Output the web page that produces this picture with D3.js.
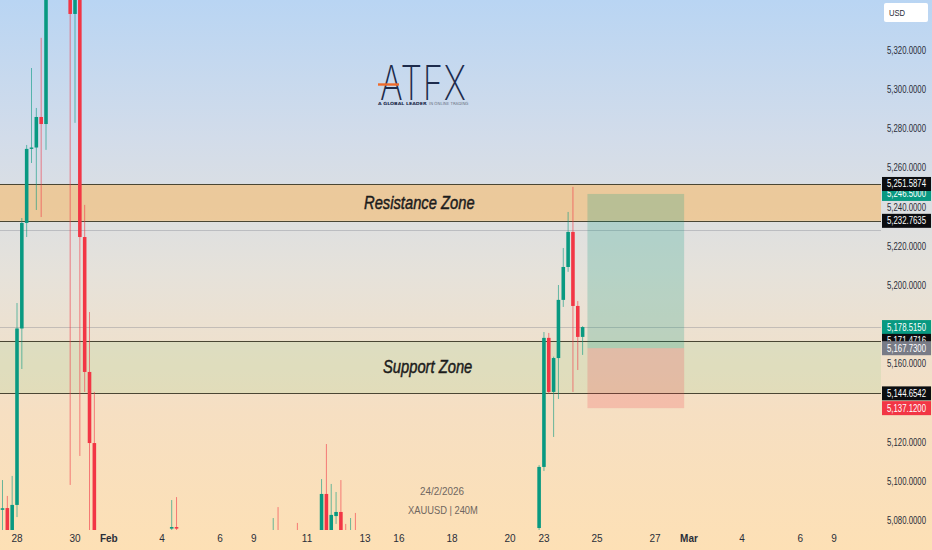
<!DOCTYPE html>
<html>
<head>
<meta charset="utf-8">
<script src="https://cdn.jsdelivr.net/npm/d3@7"></script>
<style>
  html, body { margin: 0; padding: 0; background: #fff; }
  svg { display: block; }
  .narrow { font-family: "Liberation Sans Narrow", "Liberation Sans", Arial, sans-serif; }
</style>
</head>
<body>
<svg id="chart" width="932" height="550"></svg>
<script>
// XAUUSD 4H candles (slot = bar position on the time axis)
const slots  = [-3, -2, -1, 0, 1, 2, 3, 4, 5, 6, 11, 12, 13, 14, 15, 16, 32, 33, 53, 54, 58, 63, 64, 65, 66, 67, 68, 69, 70,
                108, 109, 110, 111, 112, 113, 114, 115, 116, 117];
const opens  = [5085.2, 5086.1, 5068.0, 5087.7, 5177.8, 5231.7, 5269.5, 5270.2, 5285.8, 5282.2, 5420.0, 5338.4, 5420.0, 5224.5, 5155.6, 5119.3,
                5075.6, 5076.4, 5068.0, 5074.0, 5072.0, 5066.0, 5093.3, 5068.0, 5082.0, 5084.1, 5074.0, 5068.0, 5074.0,
                5075.9, 5107.1, 5173.0, 5145.4, 5162.7, 5192.4, 5209.2, 5227.1, 5189.3, 5173.5];
const highs  = [5100.4, 5092.3, 5102.5, 5190.8, 5234.2, 5271.5, 5310.8, 5290.4, 5326.2, 5420.0, 5450.0, 5450.0, 5450.0, 5240.9, 5186.2, 5145.4,
                5090.2, 5091.7, 5081.0, 5086.6, 5078.5, 5100.9, 5118.8, 5098.4, 5094.3, 5100.4, 5078.0, 5081.0, 5083.6,
                5108.0, 5176.0, 5175.5, 5163.4, 5200.0, 5218.9, 5237.3, 5250.1, 5191.8, 5179.0];
const lows   = [5066.0, 5062.0, 5064.0, 5081.5, 5157.1, 5224.5, 5262.3, 5238.3, 5234.7, 5269.0, 5097.9, 5282.8, 5112.7, 5145.4, 5040.0, 5000.0,
                5050.0, 5050.0, 5050.0, 5050.0, 5050.0, 5050.0, 5050.0, 5055.0, 5078.0, 5050.0, 5055.0, 5055.0, 5055.0,
                5070.0, 5105.0, 5144.5, 5122.4, 5141.8, 5188.8, 5206.7, 5145.4, 5156.6, 5164.3];
const closes = [5086.0, 5068.0, 5087.7, 5177.8, 5231.7, 5269.5, 5270.2, 5285.8, 5282.2, 5400.0, 5338.4, 5400.0, 5224.5, 5155.6, 5119.3, 5040.0,
                5076.4, 5075.6, 5074.0, 5066.0, 5064.0, 5093.3, 5068.0, 5082.6, 5084.1, 5070.0, 5068.0, 5074.0, 5068.0,
                5107.1, 5173.0, 5145.4, 5162.7, 5192.4, 5209.2, 5227.1, 5189.3, 5173.5, 5178.515];

// time axis
const tickSlots  = [0, 12, 19, 30, 42, 49, 60, 72, 79, 90, 102, 109, 120, 132, 139, 150, 162, 169];
const tickLabels = ["28", "30", "Feb", "4", "6", "9", "11", "13", "16", "18", "20", "23", "25", "27", "Mar", "4", "6", "9"];
const monthLabels = ["Feb", "Mar"];

// price axis (levels hidden behind the price tags are left out)
const priceTicks = [5080, 5100, 5120, 5160, 5200, 5220, 5240, 5260, 5280, 5300, 5320];

// zones and trade setup
const resistanceZone = [5232.7635, 5251.5874];
const supportZone    = [5144.6542, 5171.4716];
const refLines       = [5228.1, 5178.515];
const positionSlots  = [118, 138];
const entryPrice  = 5167.73;
const targetPrice = 5246.5;
const stopPrice   = 5137.12;
const lastPrice   = 5178.515;

// price tags on the axis, in drawing order
const tagPrices = [targetPrice, resistanceZone[1], resistanceZone[0], lastPrice, supportZone[1], entryPrice, supportZone[0], stopPrice];
const tagKinds  = ["up", "line", "line", "up", "line", "entry", "line", "down"];

const W = 932, H = 550;
const plotRight = 881, plotBottom = 530;
const UP = "#089981", DOWN = "#f23645";
const tagFill = { up: UP, down: DOWN, line: "#0c0d10", entry: "#787b86" };
const priceFmt = d3.format(",.4f");
const condense = 0.78;   // horizontal squeeze for the axis numbers

const svg = d3.select("#chart");
const defs = svg.append("defs");

const bg = defs.append("linearGradient").attr("id", "bg").attr("x1", 0).attr("y1", 0).attr("x2", 0).attr("y2", 1);
bg.append("stop").attr("offset", "0%").attr("stop-color", "#b9d5f3");
bg.append("stop").attr("offset", "25%").attr("stop-color", "#d2dcea");
bg.append("stop").attr("offset", "50%").attr("stop-color", "#e6e2da");
bg.append("stop").attr("offset", "75%").attr("stop-color", "#f6dfc2");
bg.append("stop").attr("offset", "100%").attr("stop-color", "#fde0b5");

defs.append("clipPath").attr("id", "plot")
  .append("rect").attr("x", 0).attr("y", 0).attr("width", plotRight).attr("height", plotBottom);

svg.append("rect").attr("width", W).attr("height", H).attr("fill", "url(#bg)");

const x = d3.scaleLinear().domain([0, 169]).range([17, 834]);
const y = d3.scaleLinear().domain([5080, 5320]).range([520, 50]);
const step = x(1) - x(0);
const bodyW = step * 0.74;

const plot = svg.append("g").attr("clip-path", "url(#plot)");

// zones
plot.append("rect")
  .attr("x", 0).attr("width", plotRight)
  .attr("y", y(resistanceZone[1])).attr("height", y(resistanceZone[0]) - y(resistanceZone[1]))
  .attr("fill", "rgba(241,193,128,0.72)");
plot.append("rect")
  .attr("x", 0).attr("width", plotRight)
  .attr("y", y(supportZone[1])).attr("height", y(supportZone[0]) - y(supportZone[1]))
  .attr("fill", "rgba(172,212,156,0.26)");

// faint reference lines
plot.selectAll("line.ref").data(refLines).join("line")
  .attr("class", "ref")
  .attr("x1", 0).attr("x2", plotRight)
  .attr("y1", d => Math.round(y(d)) + 0.5).attr("y2", d => Math.round(y(d)) + 0.5)
  .attr("stroke", "rgba(120,123,134,0.35)").attr("stroke-width", 1);

// zone borders
plot.selectAll("line.zone").data([...resistanceZone, ...supportZone]).join("line")
  .attr("class", "zone")
  .attr("x1", 0).attr("x2", plotRight)
  .attr("y1", d => Math.round(y(d)) + 0.5).attr("y2", d => Math.round(y(d)) + 0.5)
  .attr("stroke", "#4a4634").attr("stroke-width", 1);

// long position box
const px0 = x(positionSlots[0]), px1 = x(positionSlots[1]);
plot.append("rect")
  .attr("x", px0).attr("width", px1 - px0)
  .attr("y", y(targetPrice)).attr("height", y(entryPrice) - y(targetPrice))
  .attr("fill", "rgba(8,153,129,0.22)");
plot.append("rect")
  .attr("x", px0).attr("width", px1 - px0)
  .attr("y", y(entryPrice)).attr("height", y(stopPrice) - y(entryPrice))
  .attr("fill", "rgba(242,54,69,0.2)");

// candles
const candles = slots.map((s, i) => ({ s, o: opens[i], h: highs[i], l: lows[i], c: closes[i] }));
const cg = plot.append("g");
cg.selectAll("line.wick").data(candles).join("line")
  .attr("class", "wick")
  .attr("x1", d => x(d.s)).attr("x2", d => x(d.s))
  .attr("y1", d => y(d.h)).attr("y2", d => y(d.l))
  .attr("stroke", d => d.c >= d.o ? UP : DOWN)
  .attr("stroke-opacity", 0.6)
  .attr("stroke-width", 1);
cg.selectAll("rect.body").data(candles).join("rect")
  .attr("class", "body")
  .attr("x", d => x(d.s) - bodyW / 2)
  .attr("width", bodyW)
  .attr("y", d => y(Math.max(d.o, d.c)))
  .attr("height", d => Math.max(1, Math.abs(y(d.o) - y(d.c))))
  .attr("fill", d => d.c >= d.o ? UP : DOWN);

// condensed text helper: places a string at (tx, ty) squeezed horizontally by sx
function squeezed(parent, tx, ty, sx, str) {
  return parent.append("text")
    .attr("class", "narrow")
    .attr("transform", `translate(${tx},${ty}) scale(${sx},1)`)
    .text(str);
}

// zone titles
squeezed(svg, 364, 209, 0.82, "Resistance Zone")
  .attr("font-size", 18).attr("font-style", "italic")
  .attr("fill", "#1b1b1b").attr("stroke", "#1b1b1b").attr("stroke-width", 0.45);
squeezed(svg, 383, 373, 0.82, "Support Zone")
  .attr("font-size", 18).attr("font-style", "italic")
  .attr("fill", "#1b1b1b").attr("stroke", "#1b1b1b").attr("stroke-width", 0.45);

// brand mark
const logo = svg.append("g");
logo.append("text")
  .attr("transform", "translate(380,100) scale(0.72,1)")
  .attr("font-family", "Inter, 'Open Sans', sans-serif")
  .attr("font-weight", 200)
  .attr("font-size", 48)
  .attr("letter-spacing", 1)
  .attr("fill", "#1d2b4c")
  .text("ATFX");
logo.append("line")
  .attr("x1", 378).attr("x2", 399).attr("y1", 84.5).attr("y2", 84.5)
  .attr("stroke", "#f06a2a").attr("stroke-width", 2.4);
logo.append("text")
  .attr("transform", "translate(378,105) scale(1.1,1)")
  .attr("font-family", "'DejaVu Sans', sans-serif")
  .attr("font-size", 4.3).attr("font-weight", "bold")
  .attr("fill", "#1d2b4c")
  .text("A GLOBAL LEADER");
logo.append("text")
  .attr("transform", "translate(429,105) scale(0.92,1)")
  .attr("font-family", "'DejaVu Sans', sans-serif")
  .attr("font-size", 4.3)
  .attr("fill", "#6d7587")
  .text("IN ONLINE TRADING");

// caption
squeezed(svg, 420, 495, 0.9, "24/2/2026").attr("font-size", 11).attr("fill", "#6f6660");
squeezed(svg, 408, 514, 0.85, "XAUUSD | 240M").attr("font-size", 11).attr("fill", "#6f6660");

// price axis
const yAxis = d3.axisRight(y).tickValues(priceTicks).tickSize(0).tickPadding(0).tickFormat(priceFmt);
const ya = svg.append("g").attr("transform", "translate(887,0)").call(yAxis);
ya.select(".domain").remove();
ya.selectAll("text")
  .attr("class", "narrow").attr("font-size", 10).attr("fill", "#2a2e39").attr("dy", "0.34em")
  .attr("transform", `scale(${condense},1)`);

// currency box
svg.append("rect").attr("x", 884).attr("y", 3).attr("width", 44).attr("height", 19).attr("rx", 2)
  .attr("fill", "#ffffff");
squeezed(svg, 889, 16, 0.85, "USD").attr("font-size", 9).attr("fill", "#2a2e39");

// price tags
const tg = svg.append("g");
tagPrices.forEach((p, i) => {
  const cy = y(p);
  tg.append("rect").attr("x", 882).attr("y", cy - 7).attr("width", 49).attr("height", 14)
    .attr("fill", tagFill[tagKinds[i]]);
  squeezed(tg, 887, cy, condense, priceFmt(p))
    .attr("dy", "0.35em").attr("font-size", 10).attr("fill", "#ffffff");
});

// time axis
const xa = svg.append("g");
xa.selectAll("text").data(tickSlots).join("text")
  .attr("class", "narrow")
  .attr("x", d => x(d)).attr("y", 542)
  .attr("text-anchor", "middle")
  .attr("font-size", 10)
  .attr("font-weight", (d, i) => monthLabels.includes(tickLabels[i]) ? "bold" : "normal")
  .attr("fill", "#2a2e39")
  .text((d, i) => tickLabels[i]);
</script>
</body>
</html>
